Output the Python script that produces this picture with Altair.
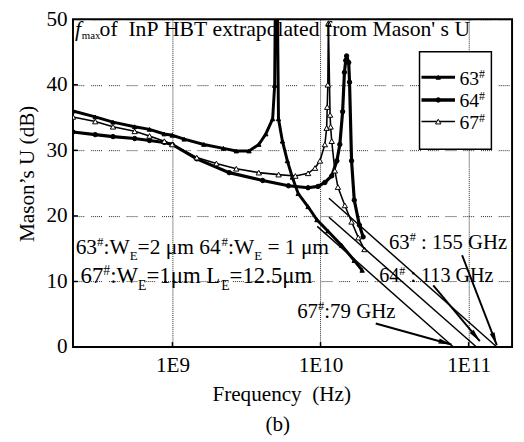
import math
import altair as alt
import pandas as pd

# ---------------- data ----------------
series_names = ["63#", "64#", "67#"]

f63_ghz = [0.213, 0.301, 0.397, 0.556, 0.700, 0.881, 0.996, 1.20, 1.63, 2.21, 2.70, 3.29, 3.83, 4.27,
           4.75, 4.90, 4.98, 5.08, 5.20, 5.53, 5.97, 6.45, 7.07, 8.24, 9.46, 11.2, 13.9, 16.9, 19.1]
u63_db = [36.0, 35.1, 34.3, 33.6, 33.2, 32.5, 32.3, 31.7, 30.9, 30.3, 29.9, 29.9, 30.9, 32.5,
          34.8, 39.9, 60.0, 60.0, 34.8, 31.4, 28.4, 25.9, 23.4, 21.4, 19.4, 17.7, 15.5, 13.2, 11.7]

f64_ghz = [0.213, 0.301, 0.397, 0.556, 0.700, 0.881, 0.996, 1.46, 2.42, 4.07, 6.07, 8.24, 9.61, 10.7,
           11.9, 12.9, 13.5, 14.1, 14.5, 14.8, 15.0, 15.5, 15.7, 16.2, 16.9, 18.3, 19.4]
u64_db = [32.8, 32.4, 32.1, 31.8, 31.5, 31.2, 30.9, 28.7, 26.6, 25.4, 24.6, 24.3, 24.5, 25.1,
          26.1, 28.4, 30.9, 35.9, 41.9, 43.7, 44.4, 43.4, 40.4, 28.4, 22.4, 18.6, 16.8]

f67_ghz = [0.213, 0.301, 0.397, 0.556, 0.700, 0.881, 0.996, 1.46, 1.98, 2.70, 3.83, 5.21, 6.76, 8.24,
           9.18, 9.91, 10.7, 11.0, 11.1, 11.2, 11.3, 11.6, 11.7, 11.9, 12.5, 13.1, 14.6, 16.2, 18.0, 19.8]
u67_db = [35.1, 34.4, 33.6, 32.9, 32.2, 31.4, 30.9, 28.9, 28.0, 27.2, 26.6, 26.3, 26.1, 26.5,
          27.3, 28.4, 30.9, 33.4, 36.6, 40.0, 49.4, 35.4, 33.6, 31.4, 26.9, 24.4, 21.6, 19.1, 16.7, 14.9]

# -20 dB/decade extrapolation lines (start point and fmax at 0 dB)
fmax_ghz = [155, 113, 79]
fit_start_ghz = [11.4, 11.4, 9.5]
fit_start_db = [22.7, 19.8, 18.4]

# annotation arrows (tail -> head), data coordinates
arrow_tail_ghz = [90.4, 57.7, 23.6]
arrow_tail_db = [14.0, 9.4, 3.6]
arrow_head_ghz = [155, 119, 76.4]
arrow_head_db = [0.3, 0.9, 0.4]

x_ticks = [1e9, 1e10, 1e11]
y_ticks = [0, 10, 20, 30, 40, 50]
y_inner_ticks = [10, 20, 30, 40]

# ---------------- layout / style ----------------
W, H = 446, 333
OX, OY = 74, 16          # page position of plot origin
XMIN, XMAX = 2.13e8, 1.965e11
FONT = "Liberation Serif"
FS = 21.5
NB = "\u00a0"

xscale = alt.Scale(type="log", domain=[XMIN, XMAX], nice=False)
yscale = alt.Scale(domain=[0, 50], nice=False)

one = pd.DataFrame({"k": [0]})


def vx(px):
    return px - OX


def vy(py):
    return py - OY


def txt(text, px, py, size=FS, align="left", baseline="alphabetic", italic=False, angle=0):
    kw = dict(text=text.replace(" ", NB), font=FONT, fontSize=size, align=align,
              baseline=baseline, color="black", angle=angle)
    if italic:
        kw["fontStyle"] = "italic"
    return alt.Chart(one).mark_text(**kw).encode(x=alt.value(vx(px)), y=alt.value(vy(py)))


WID = {"0": 500, "1": 500, "2": 500, "3": 500, "4": 500, "5": 500, "6": 500, "7": 500, "8": 500,
       "9": 500, "#": 500, ":": 278, " ": 250, "=": 564, "W": 944, "E": 611, "L": 611, "μ": 576,
       "m": 778, ".": 250, "G": 722, "H": 722, "z": 444}


def tw(s, size):
    return sum(WID.get(c, 500) for c in s) / 1000.0 * size


def frag_line(parts, x0, y0, x_end):
    # font size chosen so the line spans the same width as in the figure
    nat = 0.0
    for text, kind in parts:
        nat += tw(text, 1.0 if kind == "n" else 0.6)
    fs = (x_end - x0) / nat
    out = []
    x = x0
    for text, kind in parts:
        if kind == "n":
            size, y = fs, y0
        elif kind == "sup":
            size, y = fs * 0.6, y0 - fs * 0.36
        else:
            size, y = fs * 0.6, y0 + fs * 0.3
        lead = len(text) - len(text.lstrip(" "))
        x += tw(" " * lead, size)
        body = text.lstrip(" ")
        out.append(txt(body, x, y, size))
        x += tw(body, size)
    return out


def series_df(name, fghz, db):
    return pd.DataFrame({"f": [v * 1e9 for v in fghz], "u": db, "s": name,
                         "i": list(range(len(db)))})


X = alt.X("f:Q", scale=xscale,
          axis=alt.Axis(values=x_ticks, title="", grid=True, gridDash=[1, 1],
                        labelExpr="'1E' + format(log(datum.value)/LN10, '.0f')",
                        labelPadding=8, labelFont=FONT, labelFontSize=FS))
Y = alt.Y("u:Q", scale=yscale,
          axis=alt.Axis(values=y_ticks, title="", grid=True,
                        gridDash=[1, 1, 1, 1, 1, 1, 1, 1, 1, 1, 1, 7], labelPadding=6,
                        labelFont=FONT, labelFontSize=FS))

styles = {
    "63#": dict(w=3.0, shape="triangle-up", size=20, fill="black", lw=3),
    "64#": dict(w=3.2, shape="circle", size=20, fill="black", lw=3.5),
    "67#": dict(w=1.6, shape="triangle-up", size=30, fill="white", lw=1.5),
}

data_map = {"63#": (f63_ghz, u63_db), "64#": (f64_ghz, u64_db), "67#": (f67_ghz, u67_db)}

layers = []
for name in series_names:
    st = styles[name]
    fg, db = data_map[name]
    layers.append(
        alt.Chart(series_df(name, fg, db)).mark_line(
            color="black", strokeWidth=st["w"], clip=True,
            point=alt.OverlayMarkDef(shape=st["shape"], size=st["size"], filled=True,
                                     fill=st["fill"], stroke="black", strokeWidth=1, clip=True)
        ).encode(x=X, y=Y, order="i:Q")
    )

# extrapolation lines
rows = []
for k in range(len(fmax_ghz)):
    rows.append({"id": k, "f": fit_start_ghz[k] * 1e9, "u": fit_start_db[k]})
    rows.append({"id": k, "f": fmax_ghz[k] * 1e9, "u": 0.0})
fit_df = pd.DataFrame(rows)
layers.append(alt.Chart(fit_df).mark_line(color="black", strokeWidth=1.5)
              .encode(x=alt.X("f:Q", scale=xscale), y=alt.Y("u:Q", scale=yscale), detail="id:N"))


# arrows
def px_of(f):
    return W * (math.log10(f) - math.log10(XMIN)) / (math.log10(XMAX) - math.log10(XMIN))


def py_of(u):
    return H * (1 - u / 50.0)


arows = []
for k in range(len(arrow_tail_ghz)):
    ft, fh = arrow_tail_ghz[k] * 1e9, arrow_head_ghz[k] * 1e9
    ut, uh = arrow_tail_db[k], arrow_head_db[k]
    dx = px_of(fh) - px_of(ft)
    dy = py_of(uh) - py_of(ut)
    ang = math.degrees(math.atan2(dx, -dy)) % 360
    arows.append({"ft": ft, "fh": fh, "ut": ut, "uh": uh, "ang": ang})
arr_df = pd.DataFrame(arows)
layers.append(alt.Chart(arr_df).mark_rule(color="black", strokeWidth=2)
              .encode(x=alt.X("ft:Q", scale=xscale), x2="fh:Q",
                      y=alt.Y("ut:Q", scale=yscale), y2="uh:Q"))
layers.append(alt.Chart(arr_df).mark_point(shape="M0,0L-0.2,1L0.2,1Z", size=676, filled=True,
                                           fill="black", strokeWidth=0, opacity=1)
              .encode(x=alt.X("fh:Q", scale=xscale), y=alt.Y("uh:Q", scale=yscale),
                      angle=alt.Angle("ang:Q", scale=None)))

# inward ticks
layers.append(alt.Chart(pd.DataFrame({"f": x_ticks})).mark_rule(color="black", strokeWidth=1.5)
              .encode(x=alt.X("f:Q", scale=xscale), y=alt.value(H), y2=alt.value(H - 5)))
layers.append(alt.Chart(pd.DataFrame({"u": y_inner_ticks})).mark_rule(color="black", strokeWidth=1.5)
              .encode(y=alt.Y("u:Q", scale=yscale), x=alt.value(0), x2=alt.value(5)))

# legend box
layers.append(alt.Chart(one).mark_rect(fill="white", stroke="black", strokeWidth=1.5)
              .encode(x=alt.value(vx(426)), x2=alt.value(vx(499)),
                      y=alt.value(vy(49)), y2=alt.value(vy(148))))
leg_y = [75, 98, 120]
for name, ly in zip(series_names, leg_y):
    st = styles[name]
    layers.append(alt.Chart(one).mark_rule(color="black", strokeWidth=st["lw"])
                  .encode(x=alt.value(vx(428)), x2=alt.value(vx(462)),
                          y=alt.value(vy(ly)), y2=alt.value(vy(ly))))
    layers.append(alt.Chart(one).mark_point(shape=st["shape"], size=st["size"], filled=True,
                                            fill=st["fill"], stroke="black", strokeWidth=1, opacity=1)
                  .encode(x=alt.value(vx(445)), y=alt.value(vy(ly))))
    layers += frag_line([(name[:2], "n"), ("#", "sup")], 466.5, ly + 7.5, 492.5)

# title inside plot
layers.append(txt("f", 76, 33.3, 22, italic=True))
layers.append(txt("max", 83, 36, 11))
layers.append(txt("of  InP HBT extrapolated from Mason' s U", 101, 33.3, 22))

# device annotations
layers += frag_line([("63", "n"), ("#", "sup"), (":W", "n"), ("E", "sub"), ("=2 μm 64", "n"),
                     ("#", "sup"), (":W", "n"), ("E", "sub"), (" = 1 μm", "n")], 76.7, 254, 335)
layers += frag_line([("67", "n"), ("#", "sup"), (":W", "n"), ("E", "sub"), ("=1μm L", "n"),
                     ("E", "sub"), ("=12.5μm", "n")], 81.7, 284, 318)

# fmax annotations
layers += frag_line([("63", "n"), ("#", "sup"), (" : 155 GHz", "n")], 395, 249.3, 515)
layers += frag_line([("64", "n"), ("#", "sup"), (" : 113 GHz", "n")], 385, 282.7, 502)
layers += frag_line([("67", "n"), ("#", "sup"), (":79 GHz", "n")], 301.7, 319.3, 401.7)

# axis titles and caption
layers.append(txt("Mason\u2019s U (dB)", 28, 173, FS, align="center", baseline="middle", angle=270))
layers.append(txt("Frequency  (Hz)", 286, 404, FS, align="center"))
layers.append(txt("(b)", 282, 434, FS, align="center"))

chart = alt.layer(*layers).properties(
    width=W, height=H,
    autosize=alt.AutoSizeParams(type="none"),
    padding={"left": OX - 8, "top": OY - 8, "right": 4, "bottom": 90},
).configure_view(
    stroke="black", strokeWidth=2
).configure_axis(
    domain=False, ticks=False, labelFont=FONT, labelFontSize=FS, labelColor="black",
    gridColor="black", gridOpacity=0.85, gridWidth=1
)

chart.save("out.html", embed_options={"renderer": "svg", "actions": False})
